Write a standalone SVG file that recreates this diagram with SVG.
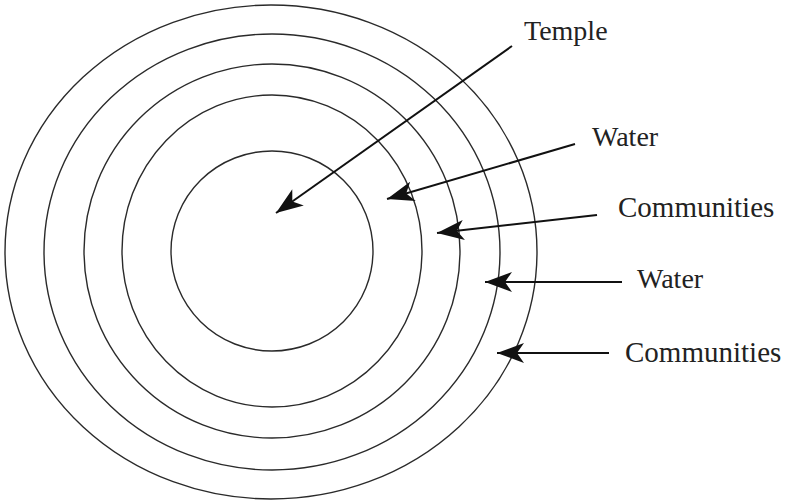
<svg xmlns="http://www.w3.org/2000/svg" width="788" height="501" viewBox="0 0 788 501">
<style>
.ring{fill:none;stroke:#2a2a2a;stroke-width:1.4}
.arrow{fill:none;stroke:#111;stroke-width:2}
.label{font-family:"Liberation Serif","Times New Roman",serif;font-size:28px;fill:#222}
.wide{font-size:29px}
</style>
<defs>
<marker id="head" viewBox="-28 -11 29 22" refX="0" refY="0" markerWidth="29" markerHeight="22" markerUnits="userSpaceOnUse" orient="auto">
<path d="M0,0 L-27,-10 L-20,0 L-27,10 Z" fill="#111"/>
</marker>
</defs>
<rect width="788" height="501" fill="#fff"/>
<g id="rings">
<g id="ring-communities-outer"><ellipse class="ring" cx="271" cy="252" rx="266" ry="247"/></g>
<g id="ring-water-outer"><ellipse class="ring" cx="272" cy="252" rx="228" ry="218"/></g>
<g id="ring-communities-inner"><ellipse class="ring" cx="272" cy="251" rx="188" ry="187"/></g>
<g id="ring-water-inner"><ellipse class="ring" cx="272" cy="251" rx="150" ry="156"/></g>
<g id="ring-temple"><ellipse class="ring" cx="272" cy="251" rx="101" ry="100"/></g>
</g>
<g id="connectors">
<line class="arrow" x1="512" y1="46" x2="276" y2="213" marker-end="url(#head)"/>
<line class="arrow" x1="575" y1="144" x2="387" y2="199" marker-end="url(#head)"/>
<line class="arrow" x1="597" y1="215" x2="437" y2="233" marker-end="url(#head)"/>
<line class="arrow" x1="622" y1="282" x2="485" y2="282" marker-end="url(#head)"/>
<line class="arrow" x1="609" y1="353" x2="497" y2="353" marker-end="url(#head)"/>
</g>
<g id="labels">
<g id="label-temple"><text class="label" x="524" y="40">Temple</text></g>
<g id="label-water-1"><text class="label" x="592" y="146">Water</text></g>
<g id="label-communities-1"><text class="label wide" x="618" y="217">Communities</text></g>
<g id="label-water-2"><text class="label" x="637" y="288">Water</text></g>
<g id="label-communities-2"><text class="label wide" x="625" y="362">Communities</text></g>
</g>
</svg>
